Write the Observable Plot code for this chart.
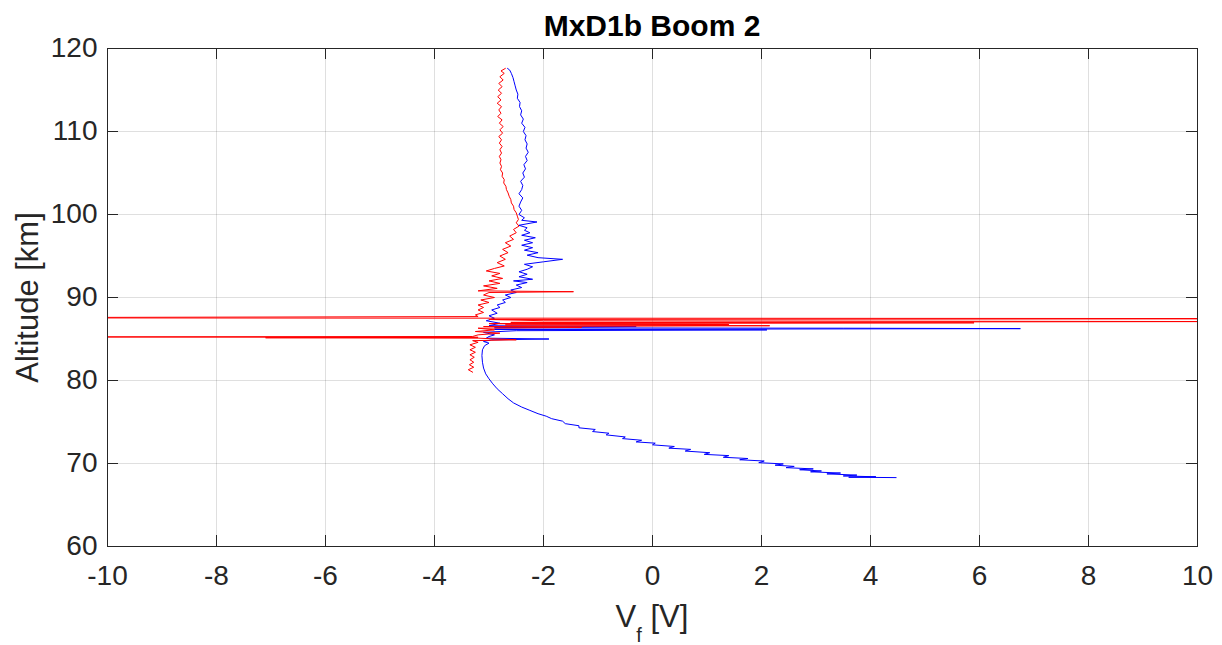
<!DOCTYPE html>
<html><head><meta charset="utf-8">
<script src="https://cdn.jsdelivr.net/npm/d3@7"></script>
<script src="https://cdn.jsdelivr.net/npm/@observablehq/plot@0.6"></script>
<style>
body{margin:0;background:#fff;}
#title{position:relative;z-index:2;width:1222px;height:26px;box-sizing:border-box;padding-left:82px;padding-top:11px;text-align:center;font:bold 30px 'Liberation Sans',Arial,sans-serif;line-height:1;color:#000;white-space:nowrap;}
#chart svg{display:block;}
</style></head><body>
<div id="title">MxD1b Boom 2</div>
<div id="chart"></div>
<script>
const xTicks = [-10,-8,-6,-4,-2,0,2,4,6,8,10];
const yTicks = [60,70,80,90,100,110,120];

// Blue trace: [altitude km, Vf V]
const bluePoints = [
[68.3,4.47],[68.35,3.6],[68.4,4.1],[68.5,3.5],[68.6,3.75],[68.75,3.2],[68.85,3.45],[69.0,2.9],[69.1,3.1],[69.25,2.7],
[69.35,2.95],[69.5,2.45],[69.65,2.6],[69.8,2.25],[69.95,2.4],[70.1,1.95],[70.3,2.05],[70.45,1.6],[70.6,1.75],[70.75,1.3],
[70.95,1.4],[71.1,0.95],[71.3,1.05],[71.5,0.6],[71.7,0.7],[71.85,0.3],[72.05,0.4],[72.25,0.0],[72.45,0.05],[72.6,-0.3],
[72.8,-0.2],[73.0,-0.55],[73.2,-0.5],[73.45,-0.85],[73.65,-0.8],[73.85,-1.1],[74.1,-1.05],[74.3,-1.35],[74.55,-1.35],[74.8,-1.6],
[75.1,-1.65],[75.4,-1.85],[75.7,-1.95],[76.0,-2.1],[76.4,-2.25],[76.8,-2.4],[77.3,-2.55],[77.8,-2.65],[78.4,-2.75],[79.0,-2.85],
[79.6,-2.93],[80.2,-3.0],[80.8,-3.06],[81.5,-3.1],[82.2,-3.12],[83.0,-3.13],[83.7,-3.12],[84.2,-3.08],[84.5,-3.0],[84.7,-3.1],
[84.9,-2.95],[85.0,-1.9],[85.1,-3.05],[85.3,-3.0],[85.5,-2.9],[85.8,-3.1],[86.0,-2.5],[86.1,2.1],[86.15,-2.9],[86.25,6.75],
[86.3,3.5],[86.35,-2.9],[86.5,-0.3],[86.6,-3.0],[86.9,-2.8],[87.2,-3.05],[87.5,-2.9],[87.8,-3.0],[88.1,-2.85],[88.5,-2.95],
[88.8,-2.8],[89.1,-2.85],[89.4,-2.7],[89.7,-2.75],[90.0,-2.6],[90.3,-2.7],[90.6,-2.5],[90.9,-2.6],[91.2,-2.4],[91.5,-2.5],
[91.8,-2.3],[92.0,-2.55],[92.2,-2.2],[92.5,-2.45],[92.8,-2.3],[93.1,-2.45],[93.4,-2.3],[93.7,-2.2],[94.0,-2.35],[94.3,-2.0],
[94.6,-1.65],[94.8,-2.1],[95.1,-2.3],[95.4,-2.1],[95.7,-2.35],[96.0,-2.2],[96.3,-2.4],[96.6,-2.2],[96.9,-2.35],[97.2,-2.15],
[97.5,-2.4],[97.8,-2.25],[98.1,-2.35],[98.4,-2.3],[98.7,-2.45],[99.1,-2.12],[99.3,-2.4],[99.6,-2.35],[100.0,-2.45],[100.5,-2.4],
[101.0,-2.45],[101.5,-2.42],[102.0,-2.38],[102.5,-2.45],[103.0,-2.4],[103.5,-2.38],[104.0,-2.42],[104.5,-2.35],[105.0,-2.38],[105.5,-2.33],
[106.0,-2.36],[106.5,-2.3],[107.0,-2.33],[107.5,-2.28],[108.0,-2.32],[108.5,-2.3],[109.0,-2.34],[109.5,-2.32],[110.0,-2.37],[110.5,-2.34],
[111.0,-2.4],[111.5,-2.37],[112.0,-2.42],[112.5,-2.4],[113.0,-2.44],[113.5,-2.43],[114.0,-2.48],[114.5,-2.47],[115.0,-2.5],[115.5,-2.52],
[116.0,-2.54],[116.5,-2.56],[117.0,-2.59],[117.4,-2.62],[117.6,-2.66]
];

// Red trace: [altitude km, Vf V]
const redPoints = [
[117.6,-2.7],[117.3,-2.78],[117.0,-2.72],[116.6,-2.8],[116.2,-2.74],[115.8,-2.82],[115.4,-2.76],[115.0,-2.83],[114.6,-2.77],[114.2,-2.84],
[113.8,-2.78],[113.4,-2.85],[113.0,-2.77],[112.6,-2.82],[112.2,-2.78],[111.8,-2.84],[111.4,-2.76],[111.0,-2.81],[110.6,-2.74],[110.2,-2.8],
[109.8,-2.75],[109.4,-2.82],[109.0,-2.77],[108.6,-2.81],[108.2,-2.76],[107.8,-2.8],[107.4,-2.77],[107.0,-2.81],[106.6,-2.78],[106.2,-2.8],
[105.8,-2.77],[105.4,-2.79],[105.0,-2.75],[104.6,-2.76],[104.2,-2.72],[103.8,-2.73],[103.4,-2.69],[103.0,-2.68],[102.6,-2.65],[102.2,-2.63],
[101.8,-2.6],[101.4,-2.59],[101.0,-2.55],[100.6,-2.54],[100.2,-2.5],[99.8,-2.48],[99.4,-2.46],[99.0,-2.5],[98.6,-2.45],[98.2,-2.55],
[97.8,-2.5],[97.4,-2.62],[97.0,-2.55],[96.6,-2.7],[96.2,-2.6],[95.8,-2.75],[95.4,-2.65],[95.0,-2.8],[94.6,-2.7],[94.2,-2.85],
[93.8,-2.72],[93.5,-2.9],[93.2,-3.05],[92.9,-2.8],[92.6,-2.95],[92.3,-2.75],[92.0,-3.0],[91.7,-2.8],[91.4,-3.1],[91.1,-2.85],
[90.8,-3.2],[90.7,-1.45],[90.6,-3.0],[90.3,-3.1],[90.0,-2.9],[89.7,-3.15],[89.4,-3.0],[89.1,-3.2],[88.8,-3.1],[88.5,-3.2],
[88.2,-3.1],[87.9,-3.25],[87.7,-3.2],[87.55,-14],[87.45,14],[87.35,-3.0],[87.2,-2.0],[87.1,10.5],[87.0,-2.6],[86.95,5.9],
[86.85,-3.0],[86.75,1.4],[86.7,-2.7],[86.6,2.15],[86.5,-3.1],[86.4,-1.3],[86.3,-3.2],[86.1,-2.9],[85.9,-3.25],[85.7,-2.8],
[85.5,-3.2],[85.3,-3.3],[85.25,-12],[85.2,-3.2],[85.15,-7.1],[85.1,-3.2],[84.9,-2.5],[84.8,-3.3],[84.6,-3.2],[84.3,-3.35],
[84.0,-3.25],[83.7,-3.35],[83.4,-3.25],[83.1,-3.35],[82.8,-3.27],[82.5,-3.35],[82.2,-3.28],[81.9,-3.36],[81.6,-3.28],[81.3,-3.38],
[81.0,-3.3]
];

const blue = bluePoints.map(([alt, v]) => ({alt, v}));
const red = redPoints.map(([alt, v]) => ({alt, v}));

const W = 1222, H = 619, mL = 107, mR = 25, mT = 22, mB = 99;
const fh = H - mT - mB, fw = W - mL - mR, tk = 11;
const ink = "#262626";

const chart = Plot.plot({
  width: W, height: H,
  marginLeft: mL, marginRight: mR, marginTop: mT, marginBottom: mB,
  style: {fontFamily: "'Liberation Sans', Arial, sans-serif", color: ink, background: "transparent"},
  x: {domain: [-10, 10]},
  y: {domain: [60, 120]},
  marks: [
    Plot.gridX(xTicks, {stroke: ink, strokeOpacity: 0.15}),
    Plot.gridY(yTicks, {stroke: ink, strokeOpacity: 0.15}),
    Plot.line(blue, {x: "v", y: "alt", stroke: "#0000ff", strokeWidth: 1, clip: true}),
    Plot.line(red, {x: "v", y: "alt", stroke: "#ff0000", strokeWidth: 1, clip: true}),
    Plot.ruleX(xTicks, {stroke: ink, insetTop: fh - tk}),
    Plot.ruleX(xTicks, {stroke: ink, insetBottom: fh - tk}),
    Plot.ruleY(yTicks, {stroke: ink, insetRight: fw - tk}),
    Plot.ruleY(yTicks, {stroke: ink, insetLeft: fw - tk}),
    Plot.frame({stroke: ink}),
    Plot.axisX(xTicks, {tickSize: 0, tickPadding: 19, fontSize: 28, label: null, tickFormat: d => String(d)}),
    Plot.axisY(yTicks, {tickSize: 0, tickPadding: 10, fontSize: 28, label: null, tickFormat: d => String(d)}),
    Plot.text(["Altitude [km]"], {text: d => d, frameAnchor: "left", dx: -79, rotate: -90, fontSize: 31, textAnchor: "middle", lineAnchor: "middle", fill: ink})
  ]
});
document.getElementById("chart").appendChild(chart);

const xl = d3.select(chart).append("text")
  .attr("x", mL + fw / 2).attr("y", H - 18)
  .attr("text-anchor", "middle").attr("font-size", 31).attr("fill", ink)
  .attr("font-family", "'Liberation Sans', Arial, sans-serif");
xl.append("tspan").text("V");
xl.append("tspan").attr("font-size", 20).attr("dy", 15).text("f");
xl.append("tspan").attr("dy", -15).text(" [V]");
</script>
</body></html>
